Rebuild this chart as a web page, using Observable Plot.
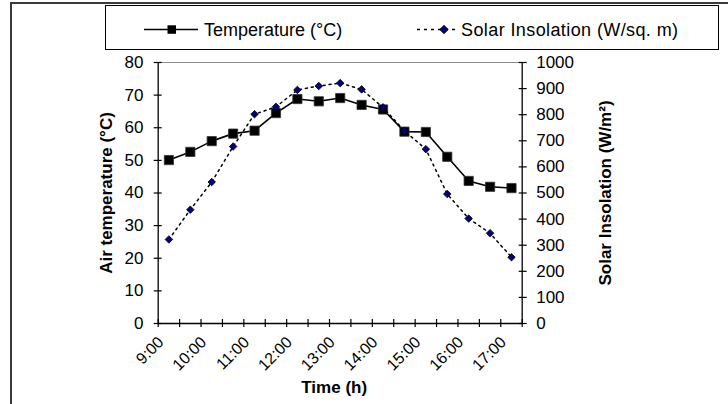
<!DOCTYPE html>
<html><head><meta charset="utf-8">
<script src="https://cdn.jsdelivr.net/npm/d3@7"></script>
<script src="https://cdn.jsdelivr.net/npm/@observablehq/plot@0.6"></script>
<style>
html,body{margin:0;padding:0;overflow:hidden;background:#fff;font-family:"Liberation Sans",Arial,sans-serif;}
#frame{position:absolute;left:10px;top:2px;width:900px;height:600px;border-left:2px solid #3a3a3a;border-top:2px solid #3a3a3a;pointer-events:none;}
#legend{position:relative;height:55px;}
#legendbox{position:absolute;left:105px;top:5px;width:614px;height:45px;border:1px solid #000;box-sizing:border-box;background:#fff;}
#legendbox svg{display:block;}
#chart{position:relative;}
</style></head>
<body>
<div id="frame"></div>
<div id="legend"><div id="legendbox"></div></div>
<div id="chart"></div>
<script>
// ---- data ----
const timeLabels = ["9:00","9:30","10:00","10:30","11:00","11:30","12:00","12:30","13:00","13:30","14:00","14:30","15:00","15:30","16:00","16:30","17:00"];
const temperature = [50.1, 52.6, 55.9, 58.2, 59.1, 64.5, 68.8, 68.1, 69.1, 67.0, 65.6, 58.8, 58.7, 51.1, 43.7, 41.9, 41.5];
const solar = [322, 436, 542, 678, 802, 830, 895, 910, 921, 897, 828, 738, 668, 496, 402, 346, 254];
const hourLabels = ["9:00","10:00","11:00","12:00","13:00","14:00","15:00","16:00","17:00"];
const tempTicks = [0, 10, 20, 30, 40, 50, 60, 70, 80];
const solarTicks = [0, 100, 200, 300, 400, 500, 600, 700, 800, 900, 1000];
const seriesNames = ["Temperature (°C)", "Solar Insolation (W/sq. m)"];
const axisTitles = {left: "Air temperature (°C)", right: "Solar Insolation (W/m²)", bottom: "Time (h)"};

// ---- derived ----
const ratio = solarTicks[solarTicks.length - 1] / tempTicks[tempTicks.length - 1];
const rows = timeLabels.map((t, i) => ({i, time: t, temp: temperature[i], solar: solar[i]}));
const boundaries = d3.range(0, timeLabels.length + 1).map(k => k - 0.5);
const labelIdx = hourLabels.map(h => timeLabels.indexOf(h));
const FONT = "Liberation Sans, Arial, Helvetica, sans-serif";

// ---- legend ----
const lsvg = d3.select("#legendbox").append("svg").attr("width", 612).attr("height", 43)
  .style("font-family", FONT);
lsvg.append("line").attr("x1", 38).attr("x2", 92).attr("y1", 23.5).attr("y2", 23.5)
  .attr("stroke", "#000").attr("stroke-width", 1.6);
lsvg.append("rect").attr("x", 61.5).attr("y", 19.3).attr("width", 8.5).attr("height", 8.5).attr("fill", "#000");
lsvg.append("text").attr("x", 98).attr("y", 30).attr("font-size", 18).text(seriesNames[0]);
lsvg.append("line").attr("x1", 311).attr("x2", 352).attr("y1", 23.5).attr("y2", 23.5)
  .attr("stroke", "#000").attr("stroke-width", 1.5).attr("stroke-dasharray", "3,4");
lsvg.append("path").attr("d", "M338,19.3L342.3,23.5L338,27.7L333.7,23.5Z")
  .attr("fill", "#000080").attr("stroke", "#000").attr("stroke-width", 0.8);
lsvg.append("text").attr("x", 355).attr("y", 30).attr("font-size", 18).attr("letter-spacing", 0.4).text(seriesNames[1]);

// ---- chart ----
const chart = Plot.plot({
  width: 728, height: 349,
  marginLeft: 157.7, marginRight: 206.3, marginTop: 7, marginBottom: 81,
  style: {fontFamily: FONT, fontSize: "17px", color: "#000", background: "transparent", overflow: "visible"},
  x: {type: "linear", domain: [-0.5, timeLabels.length - 0.5]},
  y: {domain: [tempTicks[0], tempTicks[tempTicks.length - 1]]},
  marks: [
    Plot.ruleY([tempTicks[tempTicks.length - 1]], {stroke: "#8c8c8c", strokeWidth: 1}),
    Plot.axisX({ticks: boundaries, tickSize: 8, dy: -4, fill: "none", label: null, strokeWidth: 1.2}),
    Plot.axisX({ticks: labelIdx, tickFormat: i => timeLabels[i], tickSize: 0, stroke: "none",
      tickRotate: -45, tickPadding: 16, dx: -8, fontSize: 16, label: null}),
    Plot.axisY({ticks: tempTicks, tickSize: 8, dx: 4, tickPadding: 10.7, label: null, fontSize: 17, strokeWidth: 1.2}),
    Plot.axisY({anchor: "right", ticks: solarTicks.map(v => v / ratio), tickFormat: v => String(Math.round(v * ratio)),
      tickSize: 8, dx: -4, tickPadding: 10, label: null, fontSize: 17, strokeWidth: 1.2}),
    Plot.ruleX([-0.5, timeLabels.length - 0.5], {stroke: "#000", strokeWidth: 1.3}),
    Plot.ruleY([0], {stroke: "#000", strokeWidth: 1.3}),
    Plot.line(rows, {x: "i", y: "temp", stroke: "#000", strokeWidth: 1.6}),
    Plot.dot(rows, {x: "i", y: "temp", symbol: "square", r: 5.2, fill: "#000", stroke: "#333", strokeWidth: 0.8}),
    Plot.line(rows, {x: "i", y: d => d.solar / ratio, stroke: "#000", strokeWidth: 1.5, strokeDasharray: "2,4"}),
    Plot.dot(rows, {x: "i", y: d => d.solar / ratio, symbol: "diamond2", r: 3.4, fill: "#000080", stroke: "#000", strokeWidth: 0.8}),
    Plot.text([axisTitles.left], {frameAnchor: "left", textAnchor: "middle", rotate: -90, dx: -52, fontWeight: "bold", fontSize: 17}),
    Plot.text([axisTitles.right], {frameAnchor: "right", textAnchor: "middle", rotate: -90, dx: 83, fontWeight: "bold", fontSize: 17}),
    Plot.text([axisTitles.bottom], {frameAnchor: "bottom", dy: 69, dx: -6, fontWeight: "bold", fontSize: 17})
  ]
});
document.getElementById("chart").appendChild(chart);
</script>
</body></html>
